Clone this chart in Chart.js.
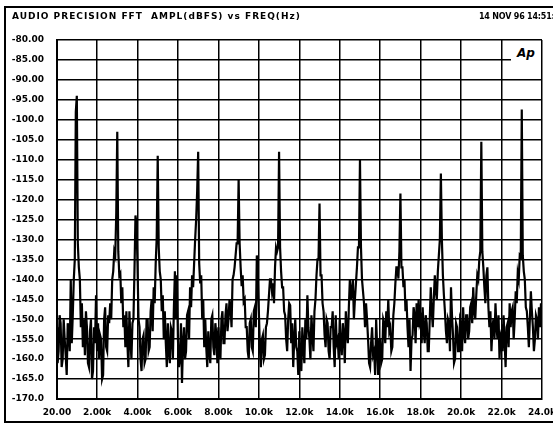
<!DOCTYPE html>
<html>
<head>
<meta charset="utf-8">
<script src="https://cdn.jsdelivr.net/npm/chart.js@4"></script>
<style>
  html, body { margin: 0; padding: 0; background: #fff; }
  #wrap { position: relative; width: 553px; height: 425px; overflow: hidden; background: #fff; }
  #wrap canvas { position: absolute; left: 0; top: 0; }
  .frame { position: absolute; left: 4px; top: 6px; width: 620px; height: 417px; box-sizing: border-box; border: 2px solid #000; }
  .hdr { position: absolute; top: 11px; font: bold 9px "DejaVu Sans", sans-serif; letter-spacing: 1px; white-space: nowrap; color: #000; }
  .date { position: absolute; left: 479px; top: 12px; font: bold 8px "DejaVu Sans", sans-serif; letter-spacing: -0.2px; white-space: nowrap; color: #000; }
  .logo { position: absolute; left: 511px; top: 45px; width: 30px; height: 18px; background: #fff;
          font: italic bold 12px "DejaVu Sans", sans-serif; color: #000; text-align: center; line-height: 16px; }
</style>
</head>
<body>
<div id="wrap">
  <canvas id="myChart" width="553" height="425"></canvas>
  <div class="frame"></div>
  <div class="hdr" style="left:12px">AUDIO PRECISION FFT&nbsp;&nbsp;AMPL(dBFS) vs FREQ(Hz)</div>
  <div class="date">14 NOV 96 14:51:07</div>
  <div class="logo">Ap</div>
</div>
<script>
// FFT bin frequencies (Hz), one row per kHz
const freqs = [
  20, 50, 100, 150, 200, 250, 300, 350, 400, 450, 500, 550, 600, 650, 700, 750, 800, 850, 900, 950,
  1000, 1050, 1100, 1150, 1200, 1250, 1300, 1350, 1400, 1450, 1500, 1550, 1600, 1650, 1700, 1750, 1800, 1850, 1900, 1950,
  2000, 2050, 2100, 2150, 2200, 2250, 2300, 2350, 2400, 2450, 2500, 2550, 2600, 2650, 2700, 2750, 2800, 2850, 2900, 2950,
  3000, 3050, 3100, 3150, 3200, 3250, 3300, 3350, 3400, 3450, 3500, 3550, 3600, 3650, 3700, 3750, 3800, 3850, 3900, 3950,
  4000, 4050, 4100, 4150, 4200, 4250, 4300, 4350, 4400, 4450, 4500, 4550, 4600, 4650, 4700, 4750, 4800, 4850, 4900, 4950,
  5000, 5050, 5100, 5150, 5200, 5250, 5300, 5350, 5400, 5450, 5500, 5550, 5600, 5650, 5700, 5750, 5800, 5850, 5900, 5950,
  6000, 6050, 6100, 6150, 6200, 6250, 6300, 6350, 6400, 6450, 6500, 6550, 6600, 6650, 6700, 6750, 6800, 6850, 6900, 6950,
  7000, 7050, 7100, 7150, 7200, 7250, 7300, 7350, 7400, 7450, 7500, 7550, 7600, 7650, 7700, 7750, 7800, 7850, 7900, 7950,
  8000, 8050, 8100, 8150, 8200, 8250, 8300, 8350, 8400, 8450, 8500, 8550, 8600, 8650, 8700, 8750, 8800, 8850, 8900, 8950,
  9000, 9050, 9100, 9150, 9200, 9250, 9300, 9350, 9400, 9450, 9500, 9550, 9600, 9650, 9700, 9750, 9800, 9850, 9900, 9950,
  10000, 10050, 10100, 10150, 10200, 10250, 10300, 10350, 10400, 10450, 10500, 10550, 10600, 10650, 10700, 10750, 10800, 10850, 10900, 10950,
  11000, 11050, 11100, 11150, 11200, 11250, 11300, 11350, 11400, 11450, 11500, 11550, 11600, 11650, 11700, 11750, 11800, 11850, 11900, 11950,
  12000, 12050, 12100, 12150, 12200, 12250, 12300, 12350, 12400, 12450, 12500, 12550, 12600, 12650, 12700, 12750, 12800, 12850, 12900, 12950,
  13000, 13050, 13100, 13150, 13200, 13250, 13300, 13350, 13400, 13450, 13500, 13550, 13600, 13650, 13700, 13750, 13800, 13850, 13900, 13950,
  14000, 14050, 14100, 14150, 14200, 14250, 14300, 14350, 14400, 14450, 14500, 14550, 14600, 14650, 14700, 14750, 14800, 14850, 14900, 14950,
  15000, 15050, 15100, 15150, 15200, 15250, 15300, 15350, 15400, 15450, 15500, 15550, 15600, 15650, 15700, 15750, 15800, 15850, 15900, 15950,
  16000, 16050, 16100, 16150, 16200, 16250, 16300, 16350, 16400, 16450, 16500, 16550, 16600, 16650, 16700, 16750, 16800, 16850, 16900, 16950,
  17000, 17050, 17100, 17150, 17200, 17250, 17300, 17350, 17400, 17450, 17500, 17550, 17600, 17650, 17700, 17750, 17800, 17850, 17900, 17950,
  18000, 18050, 18100, 18150, 18200, 18250, 18300, 18350, 18400, 18450, 18500, 18550, 18600, 18650, 18700, 18750, 18800, 18850, 18900, 18950,
  19000, 19050, 19100, 19150, 19200, 19250, 19300, 19350, 19400, 19450, 19500, 19550, 19600, 19650, 19700, 19750, 19800, 19850, 19900, 19950,
  20000, 20050, 20100, 20150, 20200, 20250, 20300, 20350, 20400, 20450, 20500, 20550, 20600, 20650, 20700, 20750, 20800, 20850, 20900, 20950,
  21000, 21050, 21100, 21150, 21200, 21250, 21300, 21350, 21400, 21450, 21500, 21550, 21600, 21650, 21700, 21750, 21800, 21850, 21900, 21950,
  22000, 22050, 22100, 22150, 22200, 22250, 22300, 22350, 22400, 22450, 22500, 22550, 22600, 22650, 22700, 22750, 22800, 22850, 22900, 22950,
  23000, 23050, 23100, 23150, 23200, 23250, 23300, 23350, 23400, 23450, 23500, 23550, 23600, 23650, 23700, 23750, 23800, 23850, 23900, 23950,
  24000
];

// amplitude in dBFS (same rows as freqs)
const ampl = [
  -152, -161, -158, -149, -151, -162, -160, -150, -155, -159, -164, -151, -153, -158, -140, -156, -149, -140, -135, -98,
  -94, -131, -137, -140, -152, -146, -157, -150, -159, -148, -152, -161, -162, -153, -150, -165, -163, -152, -156, -144,
  -158, -151, -160, -154, -155, -165, -164, -150, -147, -157, -158, -149, -151, -146, -150, -140, -138, -133, -134, -123.5,
  -103, -133, -139, -138.5, -146, -142, -152, -149, -157, -148, -156, -162, -148, -155, -160, -151, -150, -138, -124, -126,
  -136, -150, -152, -160, -163, -155, -154, -161, -160, -150, -150, -158, -157, -148, -145, -153, -142, -146, -136, -129.5,
  -109, -132, -138, -140, -148, -144, -155, -148, -156, -162, -151, -158, -161, -152, -153, -160, -147, -138, -150, -139,
  -155, -162, -160, -151, -166, -156, -152, -160, -158, -149, -148, -155, -142, -147, -139, -142, -136, -130, -125, -118,
  -108, -136, -141, -139, -150, -145, -157, -150, -157, -162, -153, -158, -161, -150, -149, -157, -159, -151, -154, -161,
  -152, -158, -160, -150, -148, -156, -156, -149, -146, -153, -150, -145, -147, -152, -140, -139, -137, -134, -131, -131,
  -115, -131, -137, -141.7, -139, -145.6, -145, -152, -152, -158, -160, -151, -150, -157, -158, -148, -147, -152, -134, -140,
  -148, -157, -162, -155, -154, -160, -159, -152, -151, -148, -144, -140, -140, -143, -141, -146, -137, -132, -133, -132,
  -108, -132, -138, -142, -142, -148, -149, -155, -158, -150, -146, -146.5, -156, -151, -162, -155, -150, -157, -158, -164,
  -153, -160, -163, -152, -157, -161, -150, -155, -144, -152, -155, -160, -149, -154, -158, -148, -145, -139, -135, -135,
  -121, -139, -139, -146, -148, -154, -157, -150, -151, -158, -160, -152, -152, -148, -157, -162, -149, -156, -155, -160,
  -150, -157, -159, -151, -154, -161, -148, -153, -156, -147, -140, -145, -143, -140, -150, -145, -141, -137, -132, -132,
  -110, -132, -140, -143, -146, -152, -146, -150, -155, -161, -162, -156, -152, -159, -158, -164, -150, -157, -164, -155,
  -155, -161, -160, -150, -151, -156, -148, -152, -145, -153, -152, -158, -157, -149, -146, -141, -137, -137, -139.8, -133,
  -118.5, -137, -137, -142, -140, -148, -145, -152, -157, -150, -163, -155, -154, -147, -149, -156, -146, -152, -145, -151,
  -150, -156, -147, -153, -156, -149, -151, -158, -158, -150, -142, -148, -152, -145, -139, -143, -145, -138, -134, -130,
  -113.5, -130, -139, -144, -148, -153, -156, -150, -151, -158, -142, -149, -154, -161, -160, -151, -152, -158, -158, -150,
  -151, -158, -147, -153, -156, -149, -149, -155, -153, -147, -146, -151, -142, -148, -150, -144, -139, -140, -135, -133,
  -105.5, -133, -137, -142, -146, -139, -137, -147, -152, -148, -158, -152, -150, -155, -146, -152, -155, -149, -160, -154,
  -153, -158, -149, -155, -162, -152, -151, -157, -146, -152, -148, -147, -155, -150, -143, -146, -138.5, -140, -134, -134.4,
  -97.4, -134, -138, -140, -147, -148, -152, -157, -150, -143, -148, -152, -158, -155, -149, -150, -155, -147, -152, -146,
  -150
];

const xTicks = [20, 2000, 4000, 6000, 8000, 10000, 12000, 14000, 16000, 18000, 20000, 22000, 24000];
const xTickLabels = ['20.00', '2.00k', '4.00k', '6.00k', '8.00k', '10.0k', '12.0k', '14.0k', '16.0k', '18.0k', '20.0k', '22.0k', '24.0k'];
const yTicks = [-80, -85, -90, -95, -100, -105, -110, -115, -120, -125, -130, -135, -140, -145, -150, -155, -160, -165, -170];
const yTickLabels = ['-80.00', '-85.00', '-90.00', '-95.00', '-100.0', '-105.0', '-110.0', '-115.0', '-120.0', '-125.0',
  '-130.0', '-135.0', '-140.0', '-145.0', '-150.0', '-155.0', '-160.0', '-165.0', '-170.0'];

const tickFont = { family: 'DejaVu Sans', size: 9, weight: 'bold' };

const ctx = document.getElementById('myChart').getContext('2d');
const myChart = new Chart(ctx, {
  type: 'line',
  data: {
    datasets: [{
      data: freqs.map((f, i) => ({ x: f, y: ampl[i] })),
      borderColor: '#000',
      borderWidth: 2.2,
      pointRadius: 0,
      tension: 0,
      fill: false
    }]
  },
  options: {
    responsive: false,
    animation: false,
    layout: { padding: { left: 0, top: 40, right: 11, bottom: 0 } },
    plugins: {
      legend: { display: false },
      tooltip: { enabled: false }
    },
    scales: {
      x: {
        type: 'linear',
        min: 20,
        max: 24000,
        afterBuildTicks: s => { s.ticks = xTicks.map(v => ({ value: v })); },
        afterFit: s => { s.height = 26; s.paddingLeft = 0; s.paddingRight = 0; },
        grid: { color: '#000', lineWidth: 1.5, drawTicks: false },
        border: { color: '#000', width: 2 },
        ticks: {
          padding: 8,
          maxRotation: 0,
          autoSkip: false,
          color: '#000',
          font: tickFont,
          callback: v => xTickLabels[xTicks.indexOf(v)]
        }
      },
      y: {
        min: -170,
        max: -80,
        afterBuildTicks: s => { s.ticks = yTicks.map(v => ({ value: v })); },
        afterFit: s => { s.width = 57; s.paddingTop = 0; s.paddingBottom = 0; },
        grid: { color: '#000', lineWidth: 1.5, drawTicks: false },
        border: { color: '#000', width: 2 },
        ticks: {
          padding: 13,
          color: '#000',
          font: tickFont,
          callback: v => yTickLabels[yTicks.indexOf(v)]
        }
      }
    }
  }
});
</script>
</body>
</html>
